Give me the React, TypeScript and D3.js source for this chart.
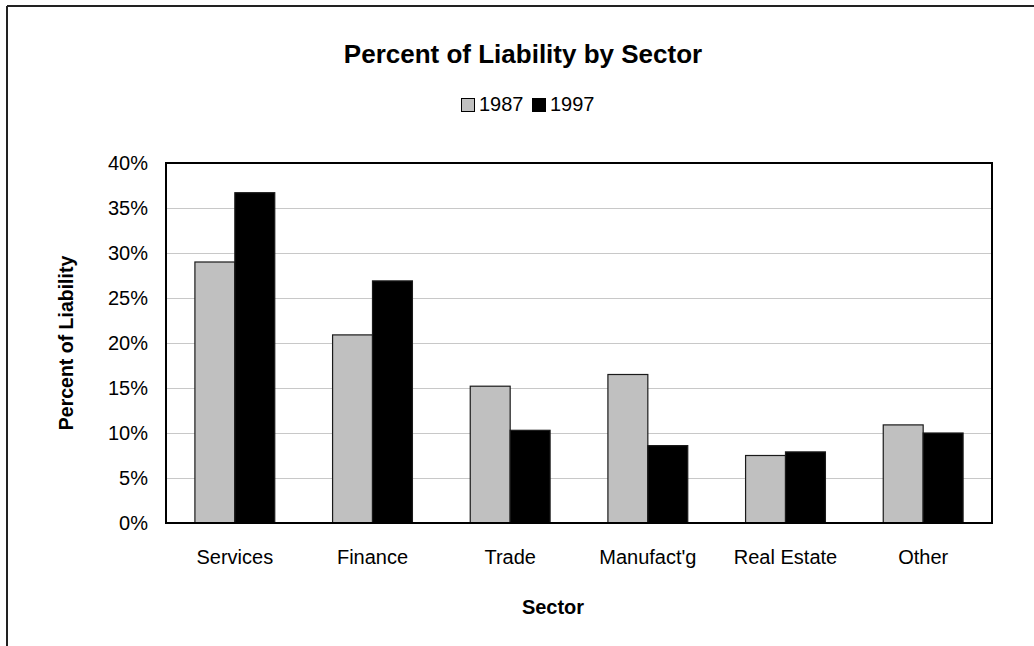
import React from 'react';
import * as d3 from 'd3';

const categories = ['Services', 'Finance', 'Trade', "Manufact'g", 'Real Estate', 'Other'];
const series = ['1987', '1997'];
const values1987 = [29.0, 20.9, 15.2, 16.5, 7.5, 10.9];
const values1997 = [36.7, 26.9, 10.3, 8.6, 7.9, 10.0];
const yTicks = [0, 5, 10, 15, 20, 25, 30, 35, 40];
const colors = ['#c0c0c0', '#000000'];

const W = 1034;
const H = 646;
const plot = { left: 166, right: 992, top: 163, bottom: 523 };
const font = '"Liberation Sans", Arial, sans-serif';

export default function App() {
  const x = d3.scaleBand<string>().domain(categories).range([plot.left, plot.right])
    .paddingInner(0.42).paddingOuter(0.21);
  const xs = d3.scaleBand<string>().domain(series).range([0, x.bandwidth()]);
  const y = d3.scaleLinear().domain([0, 40]).range([plot.bottom, plot.top]);
  const data = [values1987, values1997];

  return (
    <svg width={W} height={H} style={{ position: 'absolute', left: 0, top: 0, display: 'block' }}
      fontFamily={font}>
      <rect x={0} y={0} width={W} height={H} fill="#fff" />
      {/* outer frame, only left and top visible */}
      <line x1={7} y1={6} x2={W} y2={6} stroke="#222" strokeWidth={2} />
      <line x1={7} y1={6} x2={7} y2={H} stroke="#222" strokeWidth={2} />

      <text x={523} y={63} textAnchor="middle" fontSize={26} fontWeight="bold">Percent of Liability by Sector</text>

      {/* legend */}
      <rect x={461.5} y={98.5} width={13} height={13} fill={colors[0]} stroke="#000" />
      <text x={479} y={111} fontSize={20}>1987</text>
      <rect x={532.5} y={98.5} width={13} height={13} fill={colors[1]} stroke="#000" />
      <text x={550} y={111} fontSize={20}>1997</text>

      {/* grid */}
      {yTicks.map(t => (
        <g key={t}>
          {t > 0 && t < 40 && (
            <line x1={plot.left} x2={plot.right} y1={Math.round(y(t)) + 0.5} y2={Math.round(y(t)) + 0.5}
              stroke="#c8c8c8" strokeWidth={1} />
          )}
          <text x={148} y={y(t) + 7} textAnchor="end" fontSize={20}>{t}%</text>
        </g>
      ))}

      {/* bars */}
      {categories.map((c, i) => (
        <g key={c}>
          {series.map((s, j) => (
            <rect key={s} x={(x(c) ?? 0) + (xs(s) ?? 0)} y={y(data[j][i])}
              width={xs.bandwidth()} height={plot.bottom - y(data[j][i])}
              fill={colors[j]} stroke="#1a1a1a" strokeWidth={1.2} />
          ))}
          <text x={(x(c) ?? 0) + x.bandwidth() / 2} y={564} textAnchor="middle" fontSize={20}>{c}</text>
        </g>
      ))}

      <rect x={plot.left} y={plot.top} width={plot.right - plot.left} height={plot.bottom - plot.top}
        fill="none" stroke="#000" strokeWidth={2} />

      <text x={553} y={614} textAnchor="middle" fontSize={20} fontWeight="bold">Sector</text>
      <text transform={`translate(73,${(plot.top + plot.bottom) / 2}) rotate(-90)`} textAnchor="middle"
        fontSize={19.5} fontWeight="bold">Percent of Liability</text>
    </svg>
  );
}
